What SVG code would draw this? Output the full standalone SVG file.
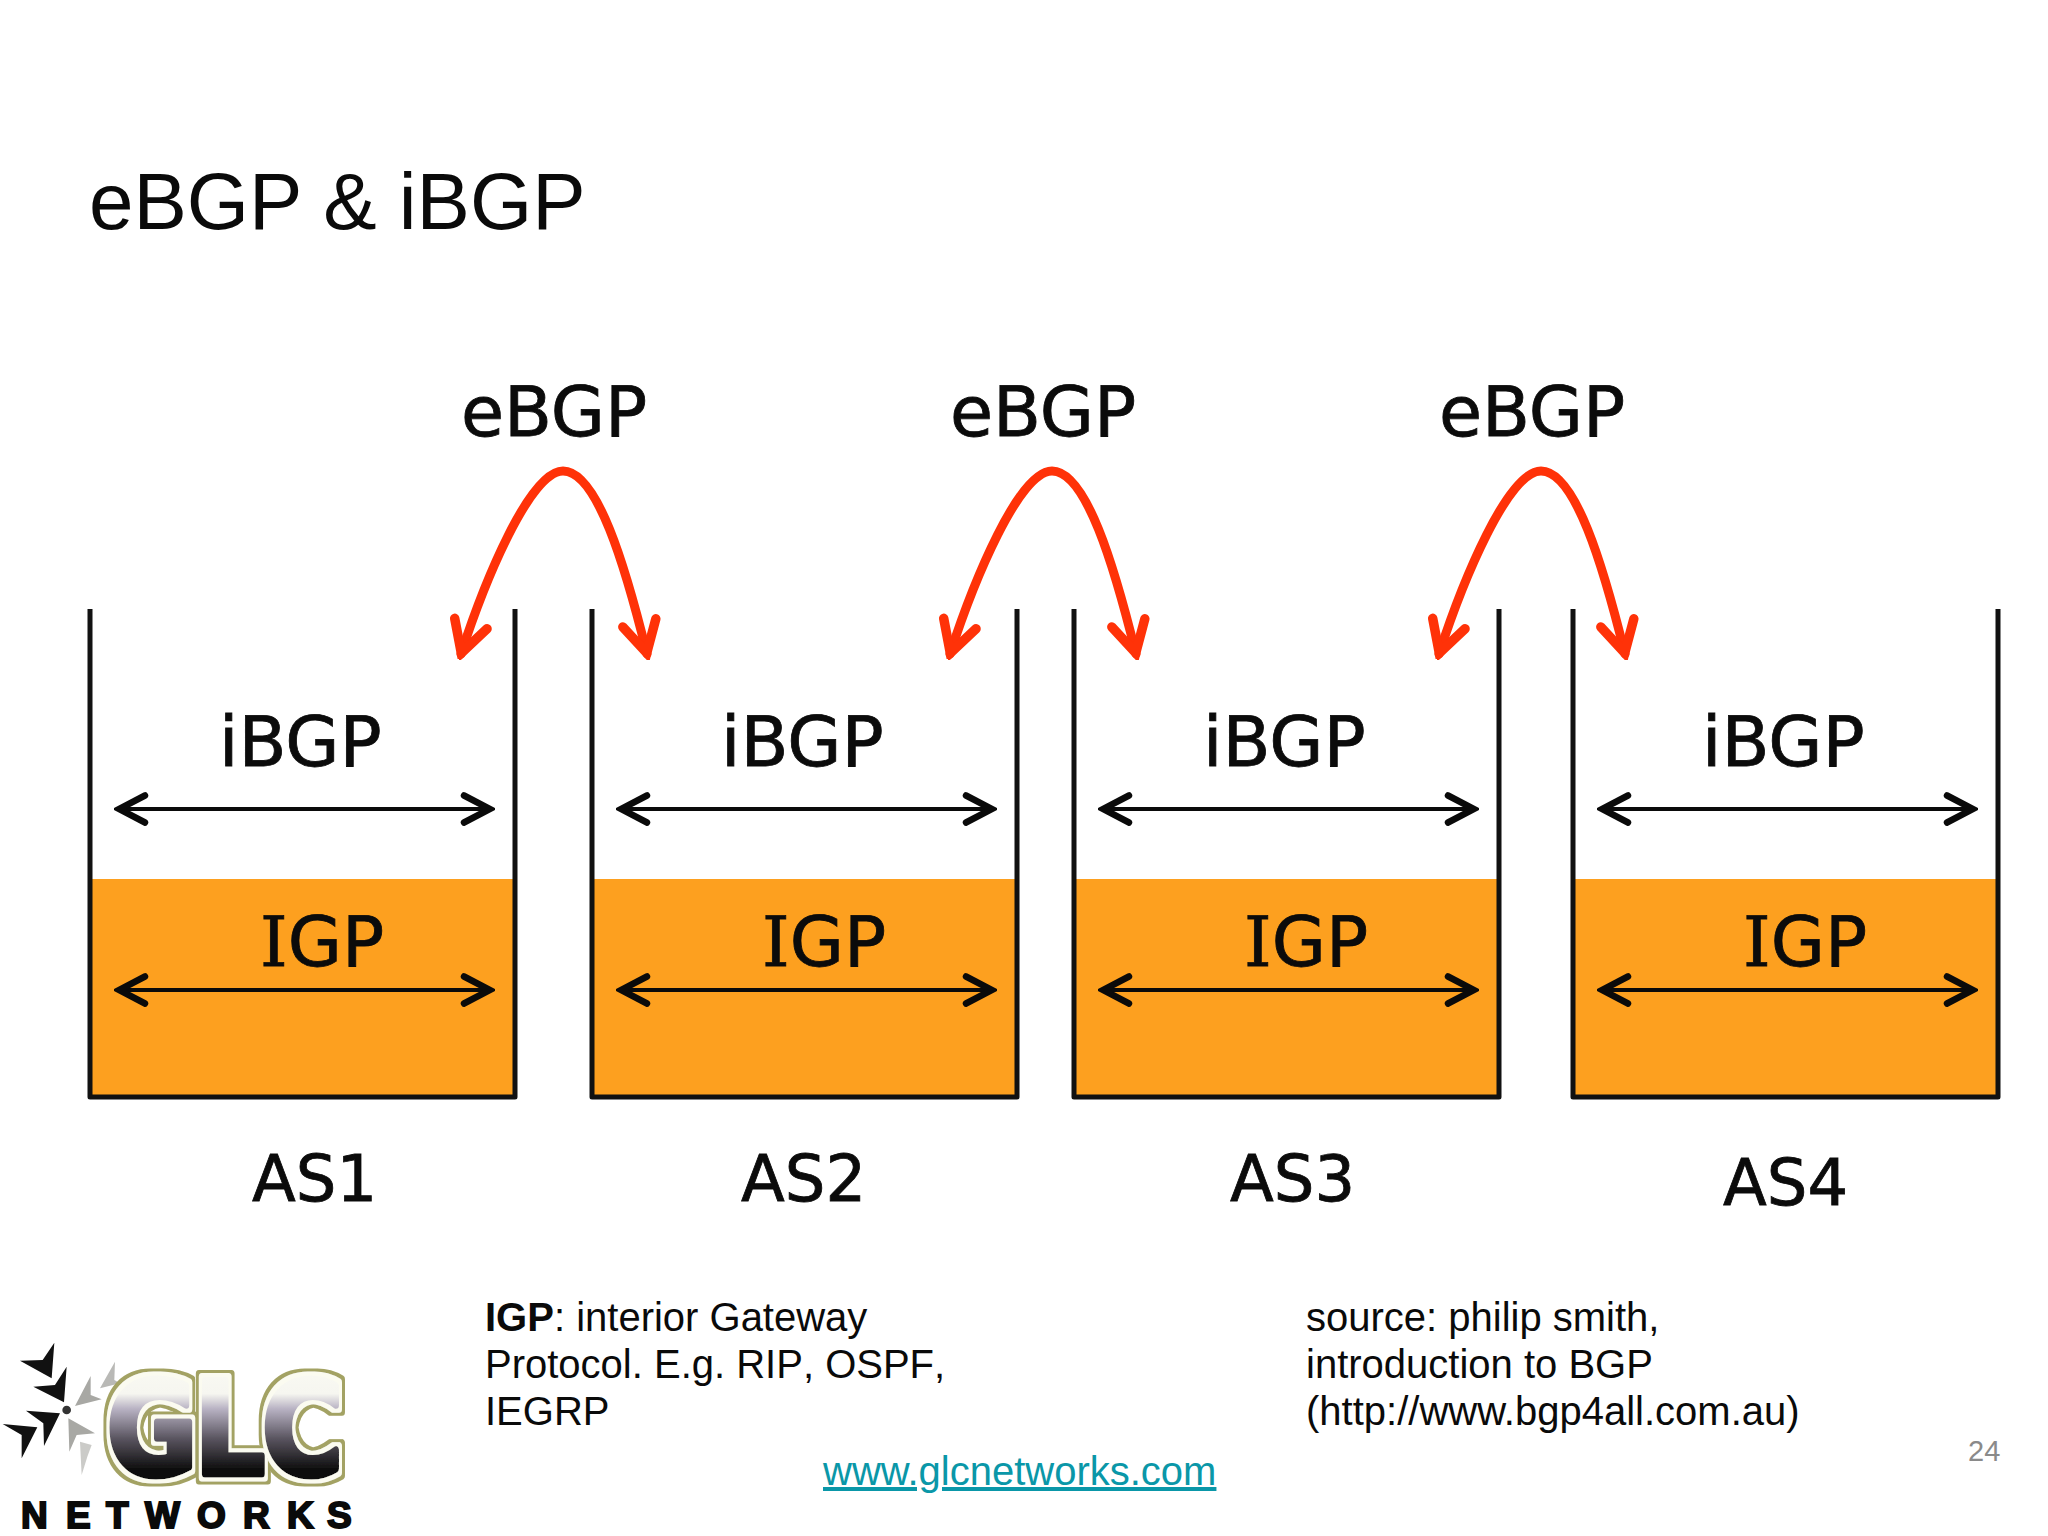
<svg xmlns="http://www.w3.org/2000/svg" width="2048" height="1536" viewBox="0 0 2048 1536">
<style>
.d{font-family:"DejaVu Sans",Verdana,sans-serif;fill:#0b0b0b;stroke:#0b0b0b;stroke-width:.8}
.t70{font-size:70px}
.t64{font-size:64px}
.m{font-family:"DejaVu Serif","DejaVu Sans",serif}
.b{font-family:"Liberation Sans",Arial,sans-serif;font-size:40px;fill:#0a0a0a}
.wall{fill:none;stroke:#111;stroke-width:5;stroke-linejoin:round;stroke-linecap:butt}
.igp{fill:#fda01f}
.h{fill:none;stroke:#0a0a0a;stroke-width:4;marker-start:url(#ah);marker-end:url(#ah)}
.r{fill:none;stroke:#ff3208;stroke-width:9;stroke-linecap:round;marker-start:url(#rh);marker-end:url(#rh)}
.dk{fill:#111}
.gy{fill:#a8a8a4}
</style>
<defs>
<marker id="ah" markerUnits="userSpaceOnUse" viewBox="-36 -20 40 40" refX="0" refY="0" markerWidth="40" markerHeight="40" orient="auto-start-reverse">
<path d="M-27 -13.5 L-1 0 L-27 13.5" fill="none" stroke="#0a0a0a" stroke-width="6.5" stroke-linecap="round"/>
</marker>
<marker id="rh" markerUnits="userSpaceOnUse" viewBox="-46 -26 52 52" refX="0" refY="0" markerWidth="52" markerHeight="52" orient="auto-start-reverse">
<path d="M-32 -17 L-1 0 L-32 17" fill="none" stroke="#ff3208" stroke-width="9.5" stroke-linecap="round" stroke-linejoin="miter"/>
</marker>
<linearGradient id="gl" x1="0" y1="0" x2="0" y2="1">
<stop offset="0" stop-color="#fbfbf4"/><stop offset=".26" stop-color="#f6f6f0"/><stop offset=".36" stop-color="#b9b3c4"/><stop offset=".56" stop-color="#5a5560"/><stop offset=".78" stop-color="#0a0a0a"/><stop offset="1" stop-color="#050505"/>
</linearGradient>
<filter id="rim" x="-10%" y="-15%" width="120%" height="130%">
<feMorphology in="SourceAlpha" operator="dilate" radius="3.5" result="a1"/>
<feFlood flood-color="#fbfbf0"/><feComposite in2="a1" operator="in" result="white"/>
<feMorphology in="SourceAlpha" operator="dilate" radius="6.5" result="a2"/>
<feFlood flood-color="#a3a264"/><feComposite in2="a2" operator="in" result="olive"/>
<feMerge><feMergeNode in="olive"/><feMergeNode in="white"/><feMergeNode in="SourceGraphic"/></feMerge>
</filter>
</defs>
<rect width="2048" height="1536" fill="#fff"/>
<text id="title" x="89" y="229" font-family="Liberation Sans,Arial,sans-serif" font-size="80" fill="#0a0a0a">eBGP &amp; iBGP</text>

<g id="as1">
<rect class="igp" x="90" y="879" width="425" height="218"/>
<path class="wall" d="M90 609V1097H515V609"/>
<text class="d t70" x="219" y="766">iBGP</text>
<text class="d t70" x="260" y="966"><tspan class="m">I</tspan>GP</text>
<text class="d t64" x="252" y="1201">AS1</text>
</g>
<g id="as2">
<rect class="igp" x="592" y="879" width="425" height="218"/>
<path class="wall" d="M592 609V1097H1017V609"/>
<text class="d t70" x="721" y="766">iBGP</text>
<text class="d t70" x="762" y="966"><tspan class="m">I</tspan>GP</text>
<text class="d t64" x="741" y="1201">AS2</text>
</g>
<g id="as3">
<rect class="igp" x="1074" y="879" width="425" height="218"/>
<path class="wall" d="M1074 609V1097H1499V609"/>
<text class="d t70" x="1203" y="766">iBGP</text>
<text class="d t70" x="1244" y="966"><tspan class="m">I</tspan>GP</text>
<text class="d t64" x="1230" y="1201">AS3</text>
</g>
<g id="as4">
<rect class="igp" x="1573" y="879" width="425" height="218"/>
<path class="wall" d="M1573 609V1097H1998V609"/>
<text class="d t70" x="1702" y="766">iBGP</text>
<text class="d t70" x="1743" y="966"><tspan class="m">I</tspan>GP</text>
<text class="d t64" x="1723" y="1205">AS4</text>
</g>

<g id="connectors">
<path class="h" d="M118 809H491"/><path class="h" d="M118 990H491"/>
<path class="h" d="M620 809H993"/><path class="h" d="M620 990H993"/>
<path class="h" d="M1102 809H1475"/><path class="h" d="M1102 990H1475"/>
<path class="h" d="M1601 809H1974"/><path class="h" d="M1601 990H1974"/>
<path id="e1" class="r" d="M461 654C485 580 530 471 563 471C597 471 625 565 647 654"/>
<path id="e2" class="r" d="M950 654C974 580 1019 471 1052 471C1086 471 1114 565 1136 654"/>
<path id="e3" class="r" d="M1439 654C1463 580 1508 471 1541 471C1575 471 1603 565 1625 654"/>
</g>
<g id="ebgp-labels">
<text class="d t70" x="461" y="436">eBGP</text>
<text class="d t70" x="950" y="436">eBGP</text>
<text class="d t70" x="1439" y="436">eBGP</text>
</g>

<g id="logo">
<g transform="translate(0 1320) scale(.3333)">
<polygon class="dk" points="60,122 128,120 163,68 155,175"/>
<polygon class="dk" points="100,200 165,195 200,140 192,247"/>
<polygon class="dk" points="78,272 180,280 132,378 130,310"/>
<polygon class="dk" points="8,312 112,322 65,415 65,345"/>
<polygon class="gy" points="225,258 272,168 272,225 305,238"/>
<polygon class="gy" points="300,205 345,125 343,180 360,190" opacity=".8"/>
<polygon class="gy" points="205,295 285,340 230,345 208,395"/>
<polygon class="gy" points="240,365 275,375 262,410 245,465" opacity=".6"/>
<circle cx="200" cy="270" r="13" fill="#333"/>
</g>
<text transform="translate(107 1474) scale(.86 1)" font-family="DejaVu Sans,sans-serif" font-weight="700" font-size="128" letter-spacing="-3" fill="url(#gl)" stroke="url(#gl)" stroke-width="7" stroke-linejoin="round" filter="url(#rim)">GLC</text>
<text font-family="Liberation Sans,Arial,sans-serif" font-weight="700" font-size="37" fill="#0a0a0a" stroke="#0a0a0a" stroke-width="2" x="21 66 106 145 197 243 287 327" y="1528">NETWORKS</text>
</g>

<g id="notes">
<text class="b" x="485" y="1331"><tspan font-weight="700">IGP</tspan>: interior Gateway</text>
<text class="b" x="485" y="1378" style="font-kerning:none">Protocol. E.g. RIP, OSPF,</text>
<text class="b" x="485" y="1425">IEGRP</text>
<text class="b" x="1306" y="1331">source: philip smith,</text>
<text class="b" x="1306" y="1378">introduction to BGP</text>
<text class="b" x="1306" y="1425">(http://www.bgp4all.com.au)</text>
<text x="823" y="1485" font-family="Liberation Sans,Arial,sans-serif" font-size="40" fill="#0a97a8" text-decoration="underline">www.glcnetworks.com</text>
<text x="1968" y="1461" font-family="Liberation Sans,Arial,sans-serif" font-size="29" fill="#8a8a8a">24</text>
</g>
</svg>
